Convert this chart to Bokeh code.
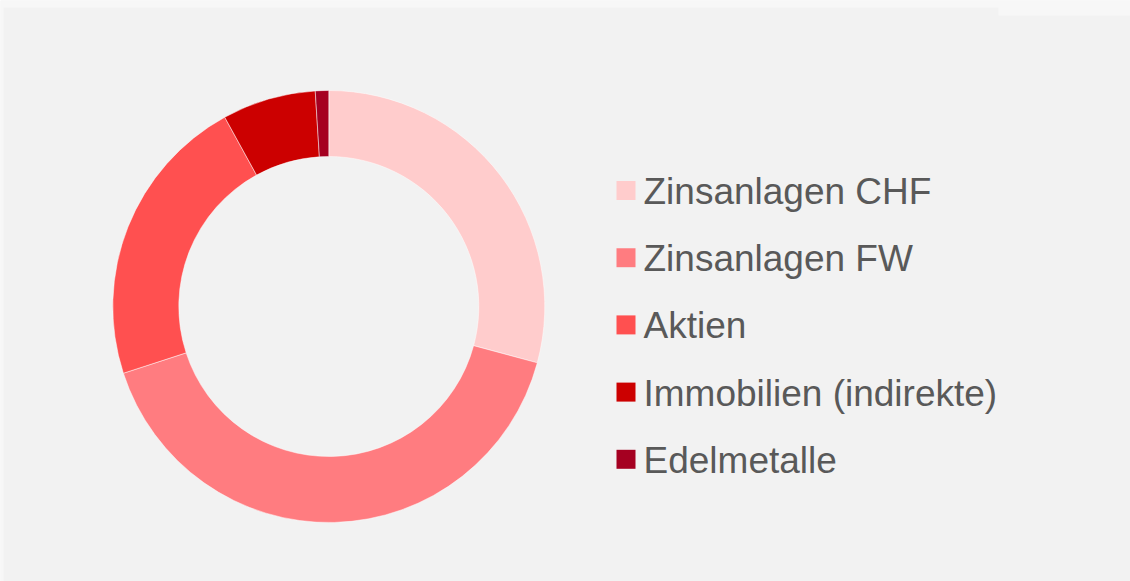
import math
from bokeh.plotting import figure
from bokeh.models import Range1d, ColumnDataSource
from bokeh.core.properties import value
from bokeh.embed import file_html
from bokeh.resources import INLINE

categories = ["Zinsanlagen CHF", "Zinsanlagen FW", "Aktien", "Immobilien (indirekte)", "Edelmetalle"]
shares = [29.2, 40.8, 22.0, 7.0, 1.0]
colors = ["#ffcccc", "#ff7c80", "#ff5050", "#cc0000", "#a50021"]

W, H = 1130, 581

p = figure(width=W, height=H, output_backend="svg", toolbar_location=None,
           x_range=Range1d(0, W), y_range=Range1d(0, H),
           min_border=0, min_border_left=0, min_border_right=0,
           min_border_top=0, min_border_bottom=0)
p.axis.visible = False
p.grid.visible = False
p.outline_line_color = None
p.background_fill_color = "#f2f2f2"
p.border_fill_color = "#f2f2f2"

def Y(py):
    return H - py

# lighter frame strips (page decoration)
p.quad(left=[0, 0, 998], right=[W, 3, W], top=[Y(0), Y(0), Y(0)],
       bottom=[Y(7), Y(H), Y(15)], fill_color="#f7f7f7", line_color=None)

# donut
cx, cy = 328.3, 306
total = sum(shares)
starts, ends = [], []
acc = 0.0
for s in shares:
    a0 = math.pi / 2 - 2 * math.pi * acc / total
    acc += s
    a1 = math.pi / 2 - 2 * math.pi * acc / total
    starts.append(a0)
    ends.append(a1)

src = ColumnDataSource(dict(start=starts, end=ends, color=colors, cat=categories))
p.annular_wedge(x=cx, y=Y(cy), inner_radius=150, outer_radius=216,
                start_angle="start", end_angle="end", direction="clock",
                fill_color="color", line_color="#ffffff", line_width=0.6,
                line_alpha=0.8, source=src)

# legend
row0 = 190
step = 67.2
lx = 625.5
sq = 19
lys = [row0 + i * step for i in range(len(categories))]
p.rect(x=[lx] * len(categories), y=[Y(v) for v in lys], width=sq, height=sq,
       fill_color=colors, line_color=None)
p.text(x=[643] * len(categories), y=[Y(v + 1) for v in lys], text=categories,
       text_font=value("Liberation Sans"), text_font_size="37px",
       text_color="#595959", text_baseline="alphabetic", text_align="left")

open("out.html", "w").write(file_html(p, INLINE))
